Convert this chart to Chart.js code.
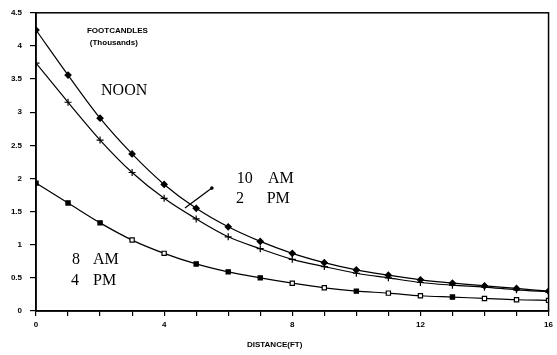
<!DOCTYPE html>
<html><head><meta charset="utf-8">
<script src="https://cdn.jsdelivr.net/npm/chart.js@4/dist/chart.umd.min.js"></script>
<style>html,body{margin:0;padding:0;background:#fff}#wrap{width:557px;height:355px}</style>
</head><body><div id="wrap"><canvas id="c" width="557" height="355"></canvas></div>
<script>
const distances = [0,1,2,3,4,5,6,7,8,9,10,11,12,13,14,15,16];
const noon = [4.24,3.56,2.91,2.37,1.91,1.55,1.27,1.05,0.87,0.73,0.62,0.54,0.47,0.42,0.38,0.34,0.30];
const tenAm2Pm = [3.74,3.15,2.58,2.09,1.70,1.39,1.12,0.94,0.78,0.67,0.57,0.50,0.43,0.39,0.36,0.32,0.29];
const eightAm4Pm = [1.93,1.63,1.33,1.07,0.87,0.71,0.59,0.50,0.42,0.35,0.30,0.27,0.23,0.21,0.19,0.17,0.16];
const xTickLabels = ['0','4','8','12','16'];
const yTickLabels = ['0','0.5','1','1.5','2','2.5','3','3.5','4','4.5'];

const toPts = arr => arr.map((v,i)=>({x:distances[i],y:v}));
const eightFill = ['#000','#000','#000','#fff','#fff','#000','#000','#000','#fff','#fff','#000','#fff','#fff','#000','#fff','#fff','#fff'];

const notes = {
  id:'notes',
  afterDatasetsDraw(chart){
    const {ctx, scales:{x,y}, chartArea:a} = chart;
    ctx.save();
    // frame
    ctx.strokeStyle='#000'; ctx.lineWidth=1.5;
    ctx.strokeRect(a.left, a.top, a.right-a.left, a.bottom-a.top);
    ctx.fillStyle='#000';
    ctx.textBaseline='alphabetic'; ctx.textAlign='left';
    const serif = '16px "Liberation Serif", "DejaVu Serif", serif';
    const put=(t,dx,dy,f)=>{ctx.font=f; ctx.fillText(t, x.getPixelForValue(dx), y.getPixelForValue(dy));};
    put('NOON',2.03,3.26,serif);
    put('10',6.27,1.93,serif); put('AM',7.24,1.93,serif);
    put('2',6.24,1.63,serif);  put('PM',7.2,1.63,serif);
    put('8',1.12,0.71,serif);  put('AM',1.78,0.71,serif);
    put('4',1.09,0.39,serif);  put('PM',1.78,0.39,serif);
    const small='bold 8px "Liberation Sans", Arial, sans-serif';
    put('FOOTCANDLES',1.59,4.19,small);
    put('(Thousands)',1.68,4.01,small);
    // x axis title
    ctx.font='bold 8px "Liberation Sans", Arial, sans-serif';
    ctx.textAlign='center';
    ctx.fillText('DISTANCE(FT)', x.getPixelForValue(7.45), a.bottom+36);
    // pointer
    const x1=x.getPixelForValue(5.49), y1=y.getPixelForValue(1.855);
    const x2=x.getPixelForValue(4.65), y2=y.getPixelForValue(1.553);
    ctx.lineWidth=1.3;
    ctx.beginPath(); ctx.moveTo(x1,y1); ctx.lineTo(x2,y2); ctx.stroke();
    ctx.beginPath(); ctx.arc(x1,y1,1.8,0,Math.PI*2); ctx.fill();
    ctx.restore();
  }
};

const common = {borderColor:'#000', borderWidth:1.2, pointBorderColor:'#000', pointBorderWidth:1.2, cubicInterpolationMode:'monotone', fill:false};

new Chart(document.getElementById('c'),{
  type:'line',
  data:{datasets:[
    Object.assign({label:'NOON', data:toPts(noon), pointStyle:'rectRot', pointRadius:3, pointBackgroundColor:'#000'},common),
    Object.assign({label:'10 AM / 2 PM', data:toPts(tenAm2Pm), pointStyle:'cross', pointRadius:3.5, pointBackgroundColor:'#000', pointBorderWidth:1.6},common),
    Object.assign({label:'8 AM / 4 PM', data:toPts(eightAm4Pm), pointStyle:'rect', pointRadius:3, pointBackgroundColor:eightFill},common)
  ]},
  options:{
    responsive:false, animation:false, devicePixelRatio:1,
    layout:{padding:{top:12,right:8,left:0,bottom:0}},
    plugins:{legend:{display:false}, tooltip:{enabled:false}},
    scales:{
      x:{type:'linear', min:0, max:16,
        border:{display:true,color:'#000',width:1.5},
        grid:{display:true, drawOnChartArea:false, drawTicks:true, tickLength:5, color:'#000', lineWidth:1.2},
        ticks:{stepSize:1, autoSkip:false, maxRotation:0, padding:4, color:'#000',
          font:{family:'"Liberation Sans", Arial, sans-serif', size:8, weight:'bold'},
          callback:(v)=>{const i=xTickLabels.indexOf(String(v)); return i>=0?xTickLabels[i]:'';}},
        afterFit:s=>{s.height=44;}
      },
      y:{type:'linear', min:0, max:4.5,
        border:{display:true,color:'#000',width:1.5},
        grid:{display:true, drawOnChartArea:false, drawTicks:true, tickLength:6, color:'#000', lineWidth:1.2},
        ticks:{stepSize:0.5, autoSkip:false, padding:8, color:'#000',
          font:{family:'"Liberation Sans", Arial, sans-serif', size:8, weight:'bold'},
          callback:(v)=>{const i=Math.round(v*2); return yTickLabels[i]!==undefined?yTickLabels[i]:'';}},
        afterFit:s=>{s.width=36;}
      }
    }
  },
  plugins:[notes]
});
</script></body></html>
